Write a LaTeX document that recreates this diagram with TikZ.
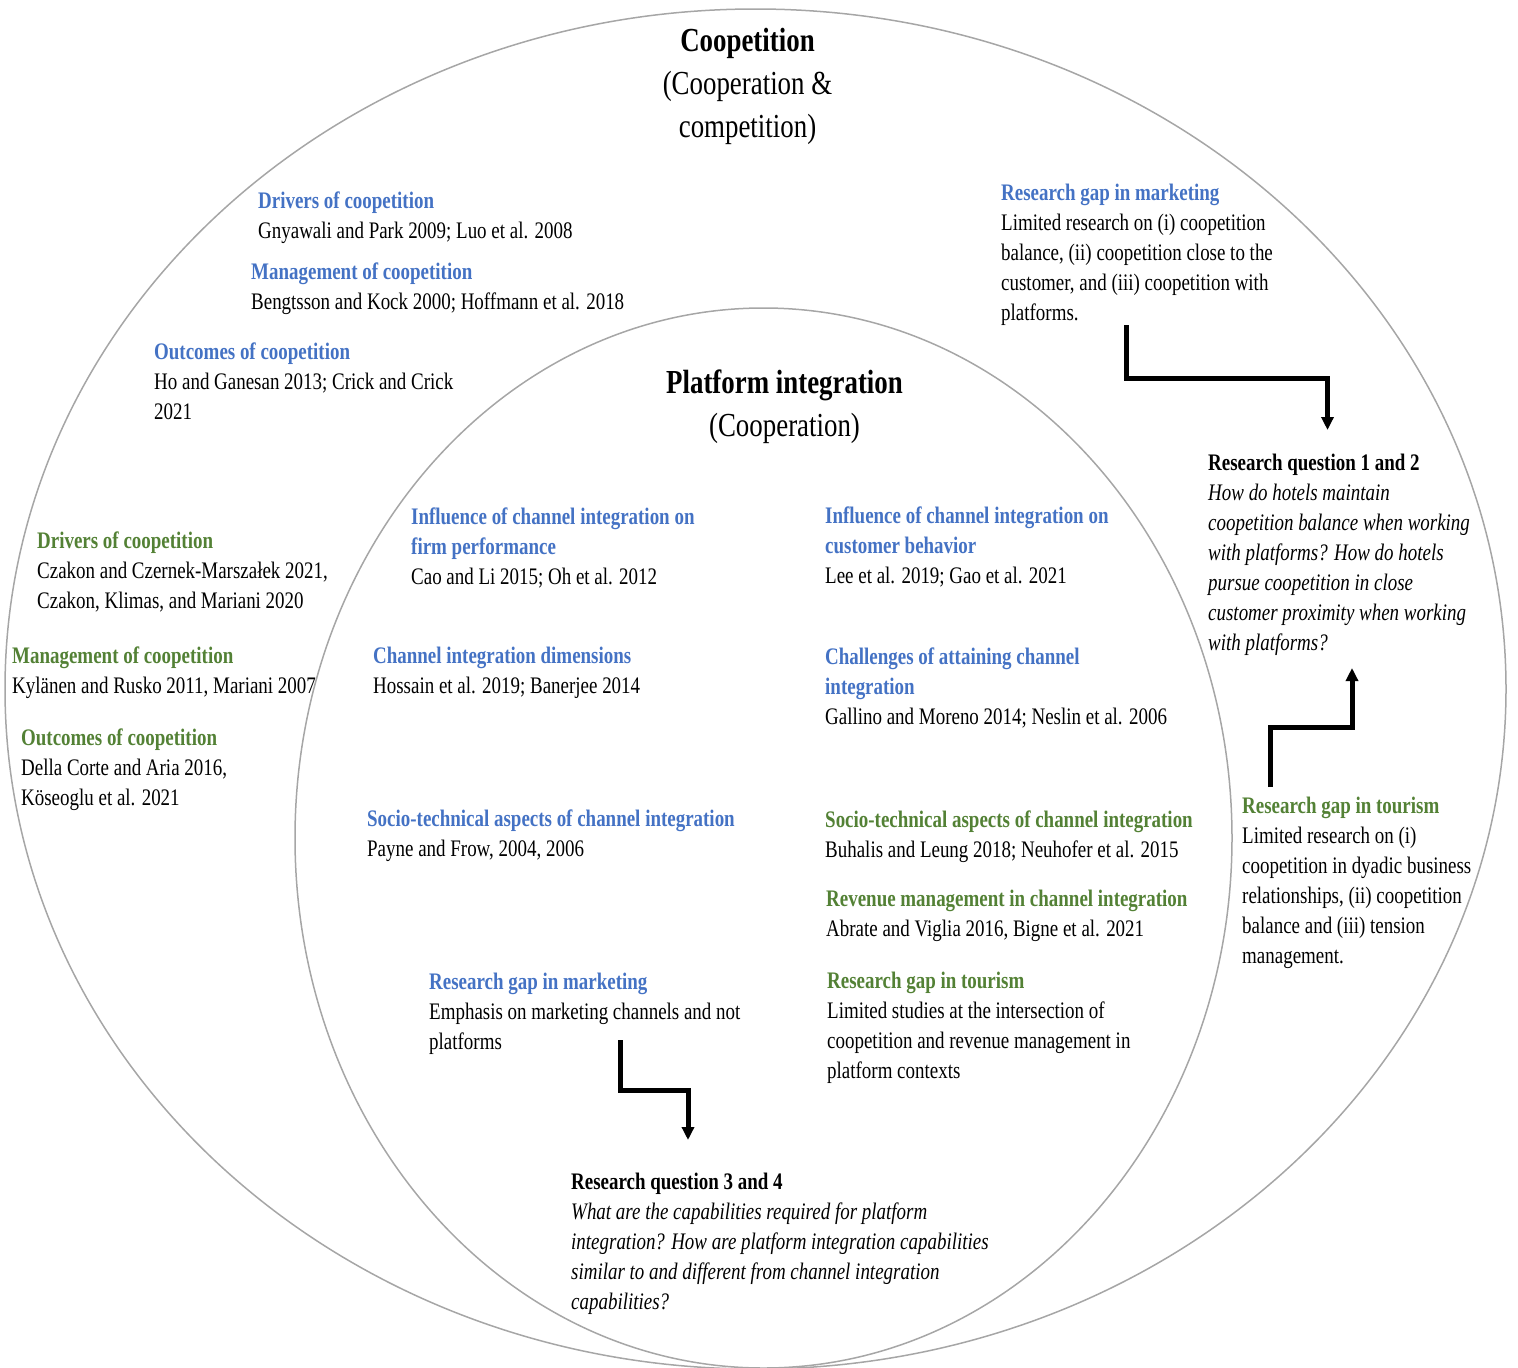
\documentclass[tikz,border=0pt]{standalone}
\usepackage{fontspec}
\setmainfont{Liberation Serif}[FakeStretch=0.8]
\usetikzlibrary{arrows.meta}
\definecolor{headblue}{HTML}{4472C4}
\definecolor{headgreen}{HTML}{538135}
\definecolor{ringgray}{HTML}{A6A6A6}

% left-aligned block of lines; baseline of the box is the first line
\newcommand\lstack[1]{\vtop{\baselineskip=30pt\lineskiplimit=-100pt\halign{##\hfil\cr#1\crcr}}}
% centred block of lines for the two titles
\newcommand\cstack[1]{\vtop{\baselineskip=43pt\lineskiplimit=-100pt\halign{\hfil##\hfil\cr#1\crcr}}}
\newcommand\bh[1]{\textbf{\color{headblue}#1}}
\newcommand\gh[1]{\textbf{\color{headgreen}#1}}

\tikzset{
  ring/.style={draw=ringgray, line width=1.5pt},
  txt/.style={anchor=base west, inner sep=0pt, font=\fontsize{23.7}{30}\selectfont},
  ttl/.style={anchor=base, inner sep=0pt, font=\fontsize{33.6}{43}\selectfont},
  flow/.style={line width=5pt, -{Triangle[width=12pt,length=13pt]}},
}

\begin{document}
\begin{tikzpicture}[x=1pt, y=-1pt]
\useasboundingbox (0,0) rectangle (1518,1368);

% the two nested domains
\draw[ring] (755.5,689) ellipse [x radius=750.5pt, y radius=680pt];
\draw[ring] (763.5,838) ellipse [x radius=468.5pt, y radius=530pt];

% titles
\node[ttl] (coop) at (747.5,51) {\cstack{\textbf{Coopetition}\cr (Cooperation \&\cr competition)}};
\node[ttl] (plat) at (784.5,393) {\cstack{\textbf{Platform integration}\cr (Cooperation)}};

% outer ring, marketing literature
\node[txt] (odrv) at (258,208) {\lstack{\bh{Drivers of coopetition}\cr Gnyawali and Park 2009; Luo et al. 2008}};
\node[txt] (omgt) at (251,279) {\lstack{\bh{Management of coopetition}\cr Bengtsson and Kock 2000; Hoffmann et al. 2018}};
\node[txt] (oout) at (154,359) {\lstack{\bh{Outcomes of coopetition}\cr Ho and Ganesan 2013; Crick and Crick\cr 2021}};

% outer ring, tourism literature
\node[txt] (tdrv) at (37,548) {\lstack{\gh{Drivers of coopetition}\cr Czakon and Czernek-Marszałek 2021,\cr Czakon, Klimas, and Mariani 2020}};
\node[txt] (tmgt) at (12,663) {\lstack{\gh{Management of coopetition}\cr Kylänen and Rusko 2011, Mariani 2007}};
\node[txt] (tout) at (21,745) {\lstack{\gh{Outcomes of coopetition}\cr Della Corte and Aria 2016,\cr Köseoglu et al. 2021}};

% research gaps and questions on the right
\node[txt] (gapm) at (1001,200) {\lstack{\bh{Research gap in marketing}\cr Limited research on (i) coopetition\cr balance, (ii) coopetition close to the\cr customer, and (iii) coopetition with\cr platforms.}};
\node[txt] (rq12) at (1208,470) {\lstack{\textbf{Research question 1 and 2}\cr \textit{How do hotels maintain}\cr \textit{coopetition balance when working}\cr \textit{with platforms? How do hotels}\cr \textit{pursue coopetition in close}\cr \textit{customer proximity when working}\cr \textit{with platforms?}}};
\node[txt] (gapt) at (1242,813) {\lstack{\gh{Research gap in tourism}\cr Limited research on (i)\cr coopetition in dyadic business\cr relationships, (ii) coopetition\cr balance and (iii) tension\cr management.}};

% inner ring
\node[txt] (ifirm) at (411,524) {\lstack{\bh{Influence of channel integration on}\cr \bh{firm performance}\cr Cao and Li 2015; Oh et al. 2012}};
\node[txt] (icust) at (825,523) {\lstack{\bh{Influence of channel integration on}\cr \bh{customer behavior}\cr Lee et al. 2019; Gao et al. 2021}};
\node[txt] (idim) at (373,663) {\lstack{\bh{Channel integration dimensions}\cr Hossain et al. 2019; Banerjee 2014}};
\node[txt] (ichal) at (825,664) {\lstack{\bh{Challenges of attaining channel}\cr \bh{integration}\cr Gallino and Moreno 2014; Neslin et al. 2006}};
\node[txt] (isocm) at (367,826) {\lstack{\bh{Socio-technical aspects of channel integration}\cr Payne and Frow, 2004, 2006}};
\node[txt] (isoct) at (825,827) {\lstack{\gh{Socio-technical aspects of channel integration}\cr Buhalis and Leung 2018; Neuhofer et al. 2015}};
\node[txt] (irev) at (826,906) {\lstack{\gh{Revenue management in channel integration}\cr Abrate and Viglia 2016, Bigne et al. 2021}};
\node[txt] (igapm) at (429,989) {\lstack{\bh{Research gap in marketing}\cr Emphasis on marketing channels and not\cr platforms}};
\node[txt] (igapt) at (827,988) {\lstack{\gh{Research gap in tourism}\cr Limited studies at the intersection of\cr coopetition and revenue management in\cr platform contexts}};
\node[txt] (rq34) at (571,1189) {\lstack{\textbf{Research question 3 and 4}\cr \textit{What are the capabilities required for platform}\cr \textit{integration? How are platform integration capabilities}\cr \textit{similar to and different from channel integration}\cr \textit{capabilities?}}};

% stepped arrows leading to the research questions
\coordinate (a1s) at (1126.5,325);
\coordinate (a1e) at (1327.5,430);
\draw[flow] (a1s) -- ++(0,53) -| (a1e);

\coordinate (a2s) at (1270,787);
\coordinate (a2e) at (1352,668);
\draw[flow] (a2s) -- ++(0,-60) -| (a2e);

\coordinate (a3s) at (620,1040);
\coordinate (a3e) at (688,1140);
\draw[flow] (a3s) -- ++(0,50) -| (a3e);
\end{tikzpicture}
\end{document}
